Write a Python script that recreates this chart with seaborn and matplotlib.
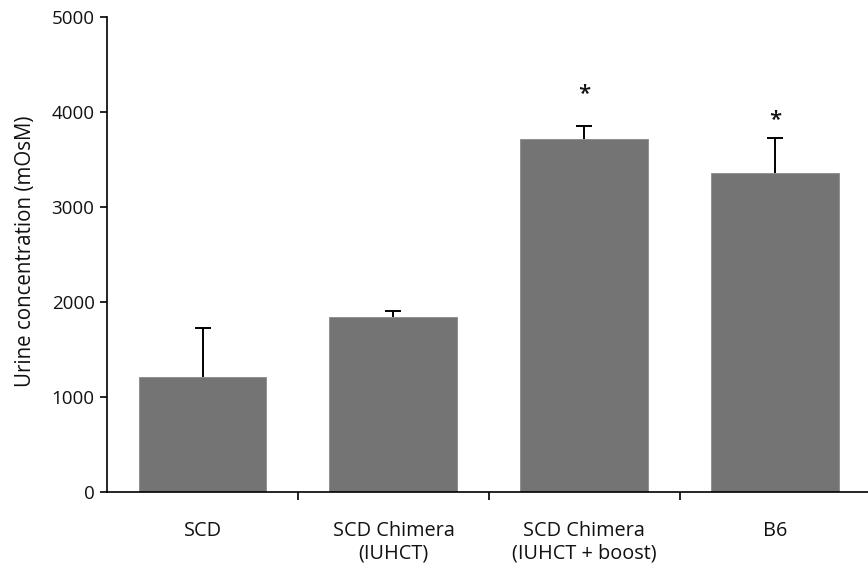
import numpy as np
import pandas as pd
import seaborn as sns
import matplotlib.pyplot as plt

# values
groups = ["SCD", "SCD Chimera\n(IUHCT)", "SCD Chimera\n(IUHCT + boost)", "B6"]
means = [1212, 1839, 3723, 3364]
err_up = [518, 65, 132, 362]
stars = ["", "", "*", "*"]
star_y = [0, 0, 4200, 3925]

df = pd.DataFrame({"group": groups, "conc": means})

sns.set_style("ticks")
plt.rcParams["font.family"] = ["Open Sans", "DejaVu Sans"]
plt.rcParams["text.color"] = "#111111"
plt.rcParams["xtick.color"] = "black"
plt.rcParams["ytick.color"] = "black"
plt.rcParams["xtick.labelcolor"] = "#111111"
plt.rcParams["ytick.labelcolor"] = "#111111"
plt.rcParams["axes.labelcolor"] = "#111111"

fig = plt.figure(figsize=(8.68, 5.64), dpi=100)
ax = fig.add_axes([0.1233, 0.128, 0.880, 0.841])

sns.barplot(data=df, x="group", y="conc", color="#747474", saturation=1,
            width=0.67, errorbar=None, edgecolor="#8a8a8a", linewidth=0.6, ax=ax)

x = np.arange(len(groups))
_, caps, _ = ax.errorbar(x, means, yerr=[np.zeros(len(means)), err_up], fmt="none",
                         ecolor="black", elinewidth=1.4, capsize=5.5, capthick=1.4)
caps[0].set_visible(False)  # no cap at the bar top

for xi, s, sy in zip(x, stars, star_y):
    if s:
        ax.text(xi, sy, s, ha="center", va="center", fontsize=16, fontweight="semibold")

ax.set_xlim(-0.5, 3.5)
ax.set_ylim(0, 5000)
ax.set_yticks([0, 1000, 2000, 3000, 4000, 5000])
ax.set_xticks(x)
ax.set_xticks([0.5, 1.5, 2.5], minor=True)
ax.tick_params(axis="x", which="major", length=0, pad=21, labelsize=14.3)
ax.tick_params(axis="x", which="minor", length=6, width=1.2, direction="out")
ax.tick_params(axis="y", length=5, width=1.2, direction="out", labelsize=13.5, pad=4)

ax.set_xlabel("")
ax.set_ylabel("Urine concentration (mOsM)", fontsize=14.8)
ax.yaxis.set_label_coords(-0.093, 0.508)

for side in ["top", "right"]:
    ax.spines[side].set_visible(False)
for side in ["left", "bottom"]:
    ax.spines[side].set_color("black")
    ax.spines[side].set_linewidth(1.2)

fig.savefig("out.png", dpi=100)
